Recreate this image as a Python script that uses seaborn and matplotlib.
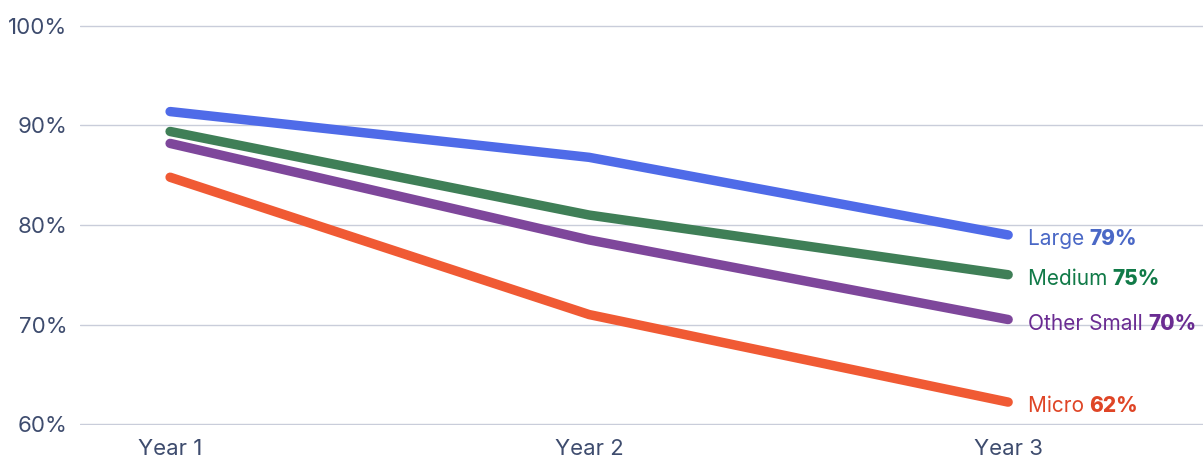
import matplotlib
matplotlib.use("Agg")
import matplotlib.pyplot as plt
import pandas as pd
import seaborn as sns

years = ["Year 1", "Year 2", "Year 3"]
large = [91.4, 86.8, 79.0]
medium = [89.4, 81.0, 75.0]
other_small = [88.2, 78.5, 70.5]
micro = [84.8, 71.0, 62.2]
series_names = ["Large", "Medium", "Other Small", "Micro"]
end_labels = ["79%", "75%", "70%", "62%"]
y_ticks = [60, 70, 80, 90, 100]

line_colors = ["#4F6BE8", "#3F7F57", "#7E479B", "#F05A34"]
text_colors = ["#4A68C6", "#117A48", "#6A2C92", "#DF4526"]

df = pd.DataFrame({
    "Year": years * 4,
    "Value": large + medium + other_small + micro,
    "Size": [n for n in series_names for _ in years],
})
df["x"] = df["Year"].map({y: i for i, y in enumerate(years)})

sns.set_style("white")
plt.rcParams["font.family"] = ["Inter", "DejaVu Sans"]

fig = plt.figure(figsize=(12.03, 4.66), dpi=100)
ax = fig.add_axes([80 / 1203, 41 / 466, 1 - 80 / 1203, 400 / 466])

sns.lineplot(data=df, x="x", y="Value", hue="Size", hue_order=series_names,
             palette=line_colors, linewidth=6.8, legend=False, ax=ax,
             solid_capstyle="round", solid_joinstyle="round")

ax.set_xlim(-0.215, 2.465)
ax.set_ylim(59.9, 100.1)
ax.set_yticks(y_ticks)
ax.set_yticklabels([f"{t}%" for t in y_ticks])
ax.set_xticks(range(len(years)))
ax.set_xticklabels(years)
ax.tick_params(axis="both", length=0, labelsize=16, labelcolor="#3E4C6E")
ax.tick_params(axis="y", pad=9)
ax.tick_params(axis="x", pad=10)
for lbl in ax.get_yticklabels():
    lbl.set_va("center_baseline")
ax.grid(axis="y", color="#C9CDDA", linewidth=1)
ax.set_axisbelow(True)
for s in ax.spines.values():
    s.set_visible(False)
ax.set_xlabel("")
ax.set_ylabel("")

ends = [large[-1], medium[-1], other_small[-1], micro[-1]]
for name, pct, val, c in zip(series_names, end_labels, ends, text_colors):
    t = ax.annotate(name + " ", xy=(2, val), xytext=(14, -3), textcoords="offset points",
                    ha="left", va="center", fontsize=15, color=c)
    ax.annotate(pct, xy=(1, 0), xycoords=t, xytext=(0, 0), textcoords="offset points",
                ha="left", va="bottom", fontsize=15, color=c, fontweight=800)

fig.savefig("out.png", dpi=100)
